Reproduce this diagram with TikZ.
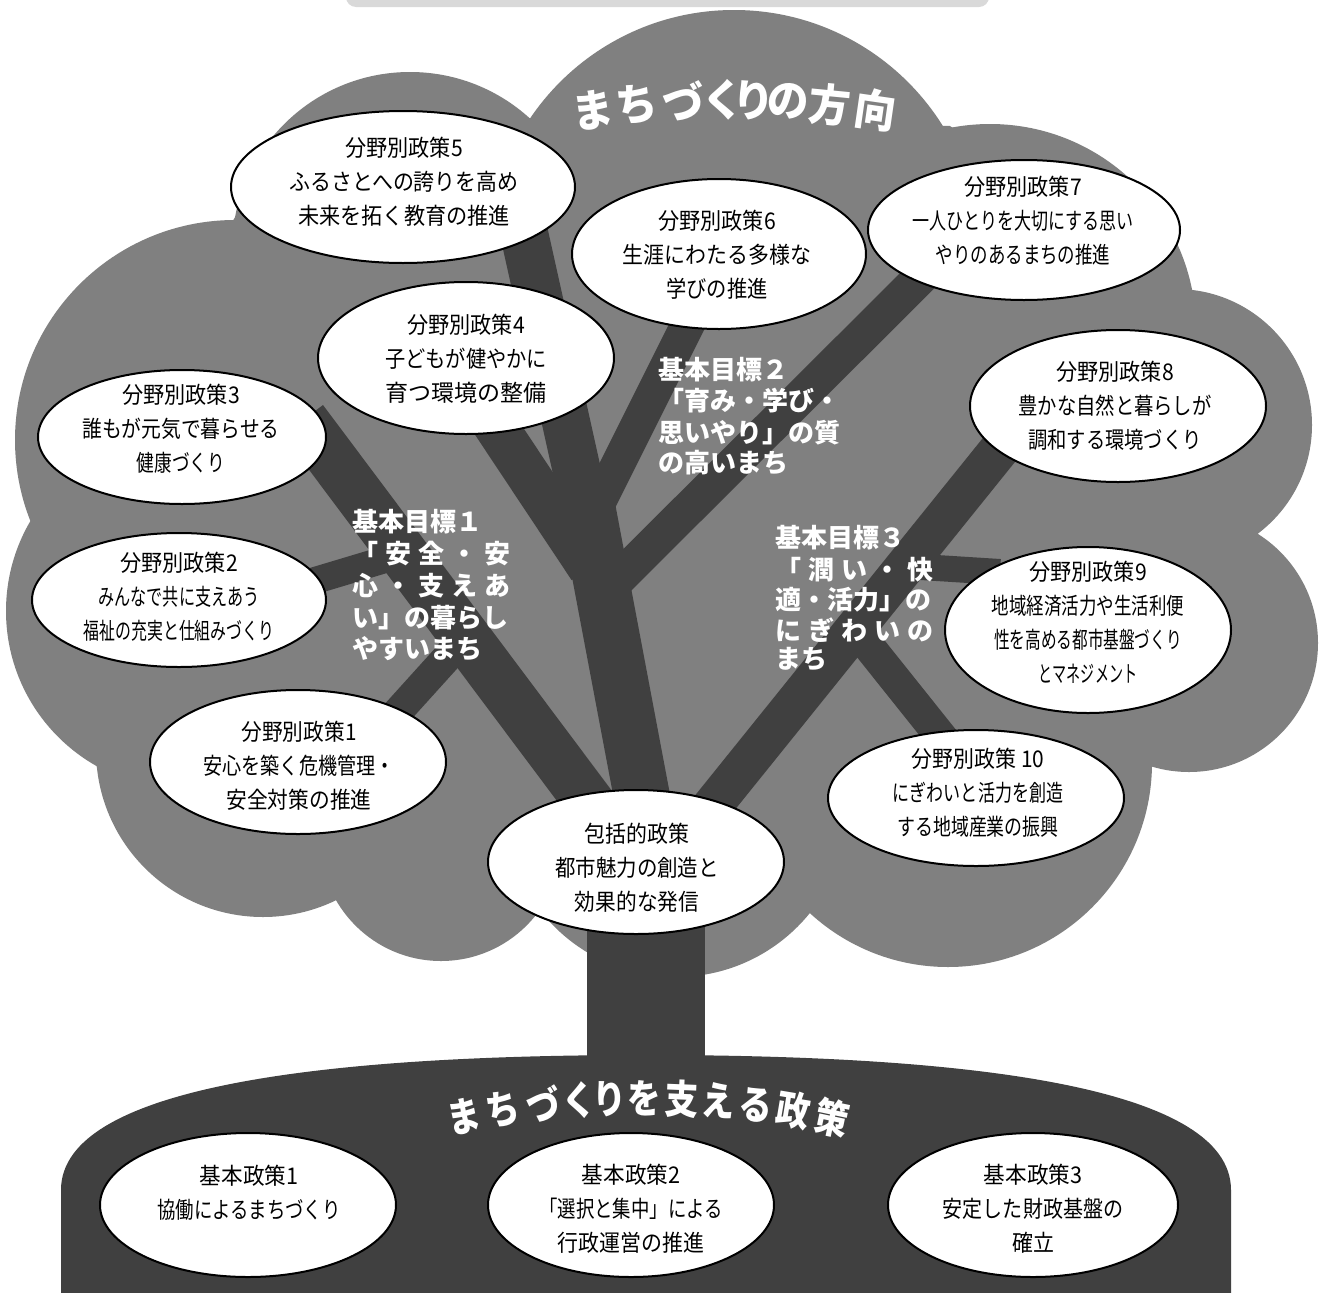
\documentclass[tikz,border=0pt]{standalone}
\usepackage{fontspec}
\usepackage{graphicx}
\usetikzlibrary{shapes.geometric}
\newfontfamily\jp{Noto Sans CJK JP}
\newfontfamily\jpt[RawFeature=+palt]{Noto Sans CJK JP}
\definecolor{crown}{gray}{0.5}
\definecolor{wood}{gray}{0.25}
\definecolor{barc}{gray}{0.85}
\newcommand{\sx}[2]{\scalebox{#1}[1]{#2}}
\newcommand{\jt}[2]{\makebox[#1pt][s]{#2}}
\begin{document}
\begin{tikzpicture}[x=1pt,y=-1pt,
  leaf/.style={ellipse, draw=black, line width=2pt, fill=white, inner sep=0pt},
  ltext/.style={align=center, font=\jp\fontsize{23pt}{34pt}\selectfont, inner sep=0pt},
  goal/.style={text=white, font=\jp\bfseries\fontsize{26pt}{31pt}\selectfont, inner sep=0pt, anchor=base west},
  ttla/.style={text=white, font=\jpt\bfseries\fontsize{44pt}{44pt}\selectfont, inner sep=0pt},
  ttlb/.style={text=white, font=\jpt\bfseries\fontsize{40pt}{40pt}\selectfont, inner sep=0pt},
  limb/.style={draw=wood, line cap=butt}]
\useasboundingbox (0,0) rectangle (1320,1293);
\fill[white] (0,0) rectangle (1320,1293);
% top bar
\fill[barc, rounded corners=10pt] (346,-30) rectangle (989,7);
% crown
\fill[crown] (410,250) circle[radius=178];
\fill[crown] (734,256) circle[radius=246];
\fill[crown] (990,330) circle[radius=206];
\fill[crown] (1176,425) circle[radius=136];
\fill[crown] (1189,643) circle[radius=129];
\fill[crown] (948,763) circle[radius=204];
\fill[crown] (676,805) circle[radius=172];
\fill[crown] (441,840) circle[radius=121];
\fill[crown] (263,750) circle[radius=167];
\fill[crown] (184,611) circle[radius=178];
\fill[crown] (235,440) circle[radius=220];
\fill[crown] (236,216) -- (527,118) -- (950,126) -- (1192,290) -- (1258,534) -- (1152,767)
  -- (810,913) -- (539,910) -- (337,900) -- (97,767) -- (34,515) -- cycle;
% trunk
\fill[wood] (587,840) rectangle (705,1075);
% branch end points
\coordinate (c0a) at (585,495);  \coordinate (c0b) at (652,850);
\coordinate (c3a) at (303,420);  \coordinate (c3b) at (601,818);
\coordinate (c2a) at (300,585);  \coordinate (c2b) at (410,552);
\coordinate (c1a) at (395,715);  \coordinate (c1b) at (470,632);
\coordinate (c4a) at (485,410);  \coordinate (c4b) at (590,568);
\coordinate (c5a) at (520,215);  \coordinate (c5b) at (600,575);
\coordinate (c6a) at (695,310);  \coordinate (c6b) at (600,500);
\coordinate (c7a) at (935,263);  \coordinate (c7b) at (612,585);
\coordinate (c8a) at (1015,430); \coordinate (c8b) at (705,815);
\coordinate (c9a) at (905,566);  \coordinate (c9b) at (1000,572);
\coordinate (c10a) at (855,629); \coordinate (c10b) at (950,748);
\draw[limb, line width=56pt] (c0a) -- (c0b);
\draw[limb, line width=50pt] (c3a) -- (c3b);
\draw[limb, line width=27pt] (c2a) -- (c2b);
\draw[limb, line width=30pt] (c1a) -- (c1b);
\draw[limb, line width=44pt] (c4a) -- (c4b);
\draw[limb, line width=48pt] (c5a) -- (c5b);
\draw[limb, line width=34pt] (c6a) -- (c6b);
\draw[limb, line width=35pt] (c7a) -- (c7b);
\draw[limb, line width=40pt] (c8a) -- (c8b);
\draw[limb, line width=26pt] (c9a) -- (c9b);
\draw[limb, line width=32pt] (c10a) -- (c10b);
% base dome
\fill[wood] (61,1300) -- (61,1190) .. controls (61,1085) and (330,1055) .. (646,1055)
  .. controls (962,1055) and (1231,1085) .. (1231,1190) -- (1231,1300) -- cycle;
% leaves
\node[leaf, minimum width=344pt, minimum height=152pt] (e5) at (403,187) {};
\node[leaf, minimum width=294pt, minimum height=150pt] (e6) at (719,254) {};
\node[leaf, minimum width=312pt, minimum height=140pt] (e7) at (1024,230) {};
\node[leaf, minimum width=296pt, minimum height=152pt] (e4) at (466,358) {};
\node[leaf, minimum width=288pt, minimum height=134pt] (e3) at (182,437) {};
\node[leaf, minimum width=296pt, minimum height=152pt] (e8) at (1118,406) {};
\node[leaf, minimum width=294pt, minimum height=134pt] (e2) at (179,600) {};
\node[leaf, minimum width=286pt, minimum height=166pt] (e9) at (1088,630) {};
\node[leaf, minimum width=296pt, minimum height=144pt] (e1) at (298,762) {};
\node[leaf, minimum width=296pt, minimum height=136pt] (e10) at (976,798) {};
\node[leaf, minimum width=296pt, minimum height=144pt] (e0) at (636,862) {};
\node[leaf, minimum width=296pt, minimum height=144pt] (b1) at (248,1205) {};
\node[leaf, minimum width=286pt, minimum height=144pt] (b2) at (631,1205) {};
\node[leaf, minimum width=290pt, minimum height=144pt] (b3) at (1033,1205) {};
% leaf texts
\node[ltext] (t5) at (404,182) {\sx{.92}{分野別政策5}\\\sx{.91}{ふるさとへの誇りを高め}\\\sx{.92}{未来を拓く教育の推進}};
\node[ltext] (t6) at (717,255) {\sx{.92}{分野別政策6}\\\sx{.91}{生涯にわたる多様な}\\\sx{.88}{学びの推進}};
\node[ltext] (t7) at (1023,221) {\sx{.92}{分野別政策7}\\\sx{.74}{一人ひとりを大切にする思い}\\\sx{.76}{やりのあるまちの推進}};
\node[ltext] (t4) at (466,359) {\sx{.92}{分野別政策4}\\\sx{.88}{子どもが健やかに}\\\sx{1}{育つ環境の整備}};
\node[ltext] (t3) at (181,429) {\sx{.92}{分野別政策3}\\\sx{.86}{誰もが元気で暮らせる}\\\sx{.77}{健康づくり}};
\node[ltext] (t8) at (1115,406) {\sx{.92}{分野別政策8}\\\sx{.84}{豊かな自然と暮らしが}\\\sx{.84}{調和する環境づくり}};
\node[ltext] (t2) at (179,597) {\sx{.92}{分野別政策2}\\\sx{.70}{みんなで共に支えあう}\\\sx{.69}{福祉の充実と仕組みづくり}};
\node[ltext] (t9) at (1088,622) {\sx{.92}{分野別政策9}\\\sx{.76}{地域経済活力や生活利便}\\\sx{.68}{性を高める都市基盤づくり}\\\sx{.61}{とマネジメント}};
\node[ltext] (t1) at (299,766) {\sx{.9}{分野別政策1}\\\sx{.83}{安心を築く危機管理・}\\\sx{.9}{安全対策の推進}};
\node[ltext] (t10) at (978,793) {\sx{.91}{分野別政策 10}\\\sx{.74}{にぎわいと活力を創造}\\\sx{.78}{する地域産業の振興}};
\node[ltext] (t0) at (637,868) {\sx{.91}{包括的政策}\\\sx{.89}{都市魅力の創造と}\\\sx{.9}{効果的な発信}};
\node[ltext] (tb1) at (249,1209) {\sx{.94}{基本政策1}\\\sx{.80}{協働によるまちづくり}\\\phantom{あ}};
\node[ltext] (tb2) at (631,1209) {\sx{.94}{基本政策2}\\\sx{.80}{「選択と集中」による}\\\sx{.91}{行政運営の推進}};
\node[ltext] (tb3) at (1033,1209) {\sx{.94}{基本政策3}\\\sx{.87}{安定した財政基盤の}\\\sx{.91}{確立}};
% goals
\node[goal] (g1a) at (352,531) {基本目標１};
\node[goal] (g1b) at (352,563) {\jt{158}{「\hfil 安\hfil 全\hfil ・\hfil 安}};
\node[goal] (g1c) at (352,595) {\jt{158}{心\hfil ・\hfil 支\hfil え\hfil あ}};
\node[goal] (g1d) at (352,627) {い」の暮らし};
\node[goal] (g1e) at (352,658) {やすいまち};
\node[goal] (g2a) at (658,379) {基本目標２};
\node[goal] (g2b) at (658,410) {「育み・学び・};
\node[goal] (g2c) at (658,442) {思いやり」の質};
\node[goal] (g2d) at (658,472) {の高いまち};
\node[goal] (g3a) at (775,547) {基本目標３};
\node[goal] (g3b) at (775,579) {\jt{158}{「\hfil 潤\hfil い\hfil ・\hfil 快}};
\node[goal] (g3c) at (775,609) {適・活力」の};
\node[goal] (g3d) at (775,640) {\jt{158}{に\hfil ぎ\hfil わ\hfil い\hfil の}};
\node[goal] (g3e) at (775,668) {まち};
% titles
\foreach \c/\xx [count=\i] in {ま/593,ち/636,づ/682,く/722,り/753,の/788,方/830,向/876} {
  \pgfmathsetmacro{\rt}{-asin((\xx-735)/985)}
  \pgfmathsetmacro{\yy}{1085-985*cos(\rt)}
  \node[ttla, rotate=\rt] (ta\i) at (\xx,\yy) {\sx{.95}{\c}};
}
\foreach \c/\xx [count=\i] in {ま/464,ち/503,づ/542,く/578,り/609,を/644,支/682,え/719,る/756,政/794,策/832} {
  \pgfmathsetmacro{\rt}{-asin((\xx-646)/900)}
  \pgfmathsetmacro{\yy}{1998-900*cos(\rt)}
  \node[ttlb, rotate=\rt] (tb\i) at (\xx,\yy) {\sx{.84}{\c}};
}
\end{tikzpicture}
\end{document}
